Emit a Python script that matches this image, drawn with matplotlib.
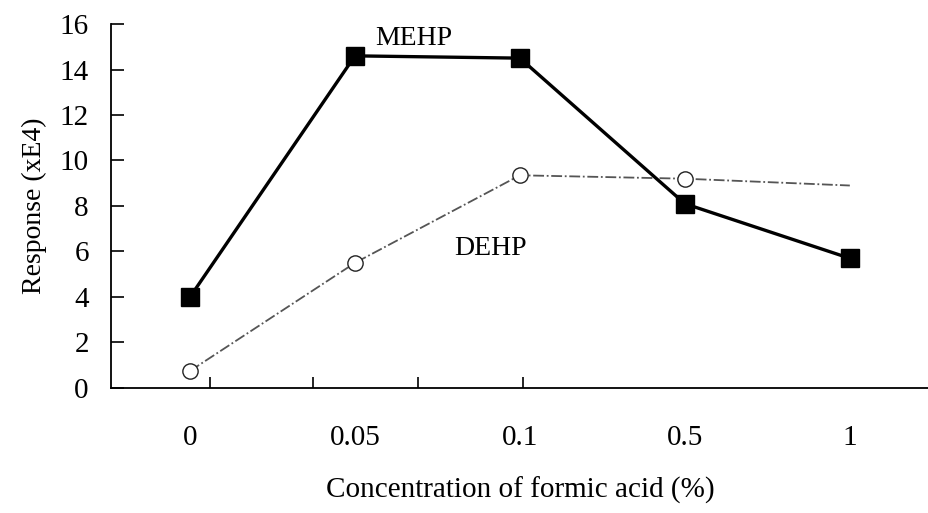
import matplotlib
matplotlib.use("Agg")
import matplotlib.pyplot as plt

categories = ["0", "0.05", "0.1", "0.5", "1"]
mehp = [4.0, 14.6, 14.5, 8.1, 5.7]
dehp = [0.75, 5.5, 9.35, 9.2, 8.9]
yticks = [0, 2, 4, 6, 8, 10, 12, 14, 16]

plt.rcParams['font.family'] = ['Liberation Serif', 'DejaVu Serif']

fig = plt.figure(figsize=(9.29, 5.13), dpi=100)
ax = fig.add_axes([0.1195, 0.2437, 0.8805, 0.7095])

x = list(range(len(categories)))
ax.plot(x, dehp, linestyle=(0, (6, 1.5, 1, 1.5)), color='#555555', linewidth=1.3,
        marker='o', markersize=11, markerfacecolor='white', markeredgecolor='#222222',
        markeredgewidth=1.0, markevery=[0, 1, 2, 3], zorder=2)
ax.plot(x, mehp, color='black', linewidth=2.4, marker='s', markersize=13,
        markerfacecolor='black', markeredgecolor='black', zorder=3)

ax.set_xlim(-0.479, 4.48)
ax.set_ylim(0, 16)
ax.set_yticks(yticks)
ax.set_yticklabels([str(v) for v in yticks], fontsize=21)
ax.tick_params(axis='y', direction='in', length=9, width=1.2, pad=16)

# x tick marks (as drawn in the reference) and category labels without marks
ax.set_xticks([0.12, 0.745, 1.38, 2.02])
ax.set_xticklabels([])
ax.tick_params(axis='x', direction='in', length=8, width=1.2)
for xi, lab in zip(x, categories):
    ax.text(xi, -2.52, lab, ha='center', va='baseline', fontsize=21,
            transform=ax.transData, clip_on=False)

ax.spines['top'].set_visible(False)
ax.spines['right'].set_visible(False)
ax.spines['left'].set_linewidth(1.3)
ax.spines['bottom'].set_linewidth(1.3)

ax.set_ylabel("Response (xE4)", fontsize=20)
ax.yaxis.set_label_coords(-0.078, 0.5)
ax.text(2.0, -4.84, "Concentration of formic acid (%)", ha='center', va='baseline',
        fontsize=21, transform=ax.transData, clip_on=False)

ax.text(1.358, 15.08, "MEHP", ha='center', va='baseline', fontsize=20)
ax.text(1.824, 5.85, "DEHP", ha='center', va='baseline', fontsize=20)

fig.savefig("out.png", dpi=100)
